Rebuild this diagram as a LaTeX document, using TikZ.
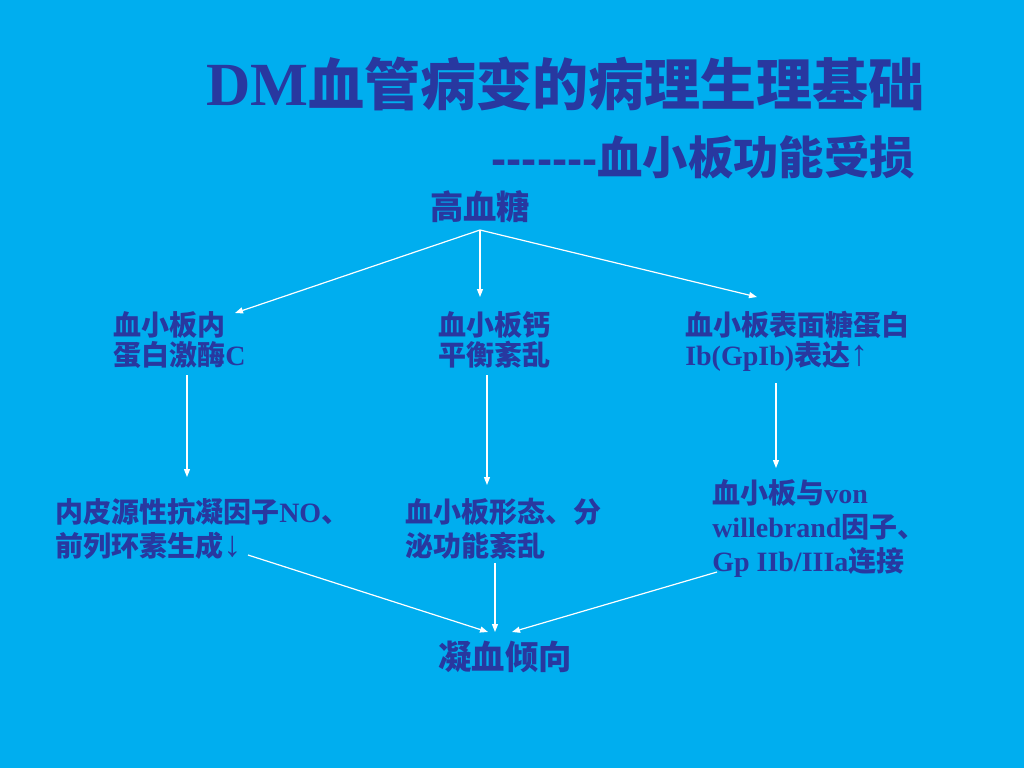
\documentclass[tikz,border=0pt]{standalone}
\usepackage{fontspec}
\setmainfont{Liberation Serif}
\newfontfamily\cjk{Noto Sans CJK SC}
\newfontfamily\sansf{Liberation Sans}
\usetikzlibrary{arrows.meta,calc}
\definecolor{bgblue}{RGB}{0,174,239}
\definecolor{txtblue}{RGB}{40,56,160}
\newcommand\zh[1]{{\cjk #1}}
\newcommand\ar[1]{\smash{\sansf\mdseries\fontsize{27}{27}\selectfont #1}}
\begin{document}
\begin{tikzpicture}[x=0.75pt,y=-0.75pt,
  txt/.style={inner sep=0pt,text=txtblue,font=\bfseries\fontsize{21}{22.5}\selectfont,align=left,anchor=base west},
  txtb/.style={txt,font=\bfseries\fontsize{21}{25}\selectfont},
  big/.style={inner sep=0pt,text=txtblue,font=\bfseries\fontsize{25}{30}\selectfont,anchor=base},
  arr/.style={draw=white,line width=0.9pt,-{Triangle[length=6pt,width=4.5pt]}}]
\fill[bgblue] (0,0) rectangle (1024,768);
\useasboundingbox (0,0) rectangle (1024,768);
\node[inner sep=0pt,text=txtblue,anchor=base west,font=\bfseries\fontsize{46}{50}\selectfont] (title) at (206,105) {DM{\fontsize{42}{50}\selectfont\zh{血管病变的病理生理基础}}};
\node[inner sep=0pt,text=txtblue,anchor=base east,font=\bfseries\fontsize{34}{40}\selectfont] (sub) at (915,174) {{\sansf-\kern0pt-\kern0pt-\kern0pt-\kern0pt-\kern0pt-\kern0pt-}\zh{血小板功能受损}};
\node[big] (gx) at (480,219) {\zh{高血糖}};
\node[txt] (pkc) at (113,365) {\zh{血小板内}\\\zh{蛋白激酶}C};
\node[txt] (ca) at (438,365) {\zh{血小板钙}\\\zh{平衡紊乱}};
\node[txt] (gp) at (685,365) {\zh{血小板表面糖蛋白}\\Ib(GpIb)\zh{表达}\ar{↑}};
\node[txtb] (no) at (55,556) {\zh{内皮源性抗凝因子}NO\zh{、}\\\zh{前列环素生成}\ar{↓}};
\node[txtb] (mb) at (405,556) {\zh{血小板形态、分}\\\zh{泌功能紊乱}};
\node[txt,font=\bfseries\fontsize{21}{25.5}\selectfont] (vw) at (712,571) {\zh{血小板与}von\\willebrand\zh{因子、}\\Gp IIb/IIIa\zh{连接}};
\node[big] (nx) at (505,669) {\zh{凝血倾向}};
\draw[arr] ($(gx.base)+(0,11)$) -- ($(pkc.base west)+(122,-52)$);
\draw[arr] ($(gx.base)+(0,11)$) -- ($(ca.base west)+(42,-68)$);
\draw[arr] ($(gx.base)+(0,11)$) -- ($(gp.base west)+(72,-68)$);
\draw[arr] ($(pkc.base west)+(74,10)$) -- ($(no.base west)+(132,-79)$);
\draw[arr] ($(ca.base west)+(49,10)$) -- ($(mb.base west)+(82,-71)$);
\draw[arr] ($(gp.base west)+(91,18)$) -- ($(vw.base west)+(64,-103)$);
\draw[arr] ($(no.base west)+(193,-1)$) -- ($(nx.base)+(-17,-37)$);
\draw[arr] ($(mb.base west)+(90,7)$) -- ($(nx.base)+(-10,-37)$);
\draw[arr] ($(vw.base west)+(5,1)$) -- ($(nx.base)+(7,-37)$);
\end{tikzpicture}
\end{document}
